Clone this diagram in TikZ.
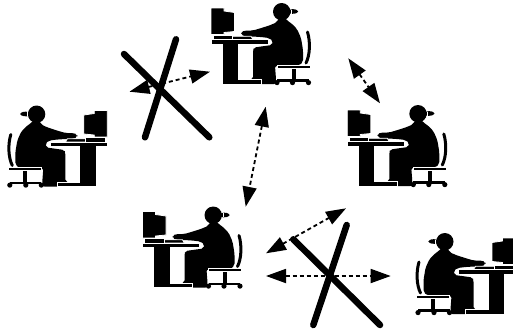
\documentclass[tikz,border=0pt]{standalone}
\usetikzlibrary{arrows.meta}
\begin{document}
\begin{tikzpicture}[x=1pt,y=-1pt,
  ink/.style={fill=black, draw=white, line width=0.8pt},
  link/.style={dash pattern=on 4pt off 3pt, line width=1.8pt,
    {Triangle[length=20pt,width=14pt]}-{Triangle[length=20pt,width=14pt]}},
  bar/.style={line width=6.5pt, line cap=round},
  pics/workstation/.style={code={
    % chair: back, stem, base and wheels
    \draw[line width=3pt, line cap=round] (96.5,32) .. controls (99.5,42) and (99,55) .. (95,63);
    \fill (80.6,67) rectangle (84.6,80);
    \fill (66,79.2) rectangle (97.5,81.8);
    \fill (66,82.6) circle (2.6pt) (81.5,82.6) circle (2.6pt) (97.5,82.6) circle (2.6pt);
    % seated person
    \fill[rounded corners=2pt] (68,18) -- (66,22) -- (61,24.5) -- (52,27.5) -- (42,30.5)
      -- (34,30.5) -- (30,32) -- (30,34.5) -- (34,36.5) -- (41,36.5) -- (50,37)
      -- (58,38) -- (62,41) -- (61,45) -- (50,46.5) -- (43,47.5) -- (42,50)
      -- (42,79) -- (38,80) -- (37.5,84) -- (65,84) -- (65,79) -- (64,66)
      -- (88,65.5) -- (92,62) -- (92,50) -- (90,38) -- (86,29) -- (80,23)
      -- (76,20.5) -- (74,18) -- cycle;
    \fill (70.7,11.7) circle (8.7pt);
    \fill (78.5,9.8) .. controls (82,8.6) and (86,9) .. (87.2,11.6)
      .. controls (85.5,14) and (82,14) .. (78.5,13.6) -- cycle;
    \draw[white, line width=0.6pt] (80.3,9.6) -- (80.3,13.8);
    % seat
    \filldraw[ink] (66,65) rectangle (99,68.3);
    % keyboard
    \filldraw[ink] (19,36.3) -- (40,36.3) -- (42,39.6) -- (19,39.6) -- cycle;
    % desk top, leg and foot
    \filldraw[ink] (0,39.8) -- (57,39.8) -- (57,44) -- (27.5,44) -- (27.5,79.5)
      -- (50,79.5) -- (50,84) -- (11,84) -- (11,44) -- (0,44) -- cycle;
    % monitor and its stand
    \filldraw[ink] (0,8) -- (13,8) -- (13,11) -- (23.5,12.5) -- (23.5,31.5)
      -- (13,32.5) -- (13,34.6) -- (0,34.6) -- cycle;
    \filldraw[ink] (2,35) rectangle (21.5,39.4);
  }}
]
\useasboundingbox (0,0) rectangle (513,333);

% workstations
\pic (wsTop) at (211,0) {workstation};
\pic (wsRight) at (347.3,102) {workstation};
\pic (wsLow) at (142.5,203.5) {workstation};
\pic[xscale=-1] (wsLeft) at (107.3,102.5) {workstation};
\pic[xscale=-1] (wsFar) at (515.5,230) {workstation};

% link end points
\coordinate (p1a) at (129.5,91.7);
\coordinate (p1b) at (210,71.7);
\coordinate (p2a) at (265.7,106.7);
\coordinate (p2b) at (245.7,206.7);
\coordinate (p3a) at (348.3,58.3);
\coordinate (p3b) at (380,103.3);
\coordinate (p4a) at (266,253.3);
\coordinate (p4b) at (346,208.3);
\coordinate (p5a) at (266,276);
\coordinate (p5b) at (390.7,276);

% crossing bars
\coordinate (x1a) at (124,54);
\coordinate (x1b) at (209.3,137.3);
\coordinate (x1c) at (176,39.3);
\coordinate (x1d) at (145,137.3);
\coordinate (x2a) at (293.3,239.3);
\coordinate (x2b) at (380,325);
\coordinate (x2c) at (346.7,225);
\coordinate (x2d) at (313.3,325);

% dashed links
\draw[link] (p1a) -- (p1b);
\draw[link] (p2a) -- (p2b);
\draw[link] (p3a) -- (p3b);
\draw[link] (p4a) -- (p4b);
\draw[link] (p5a) -- (p5b);

% blocked links
\draw[bar] (x1a) -- (x1b);
\draw[bar] (x1c) -- (x1d);
\draw[bar] (x2a) -- (x2b);
\draw[bar] (x2c) -- (x2d);
\end{tikzpicture}
\end{document}
